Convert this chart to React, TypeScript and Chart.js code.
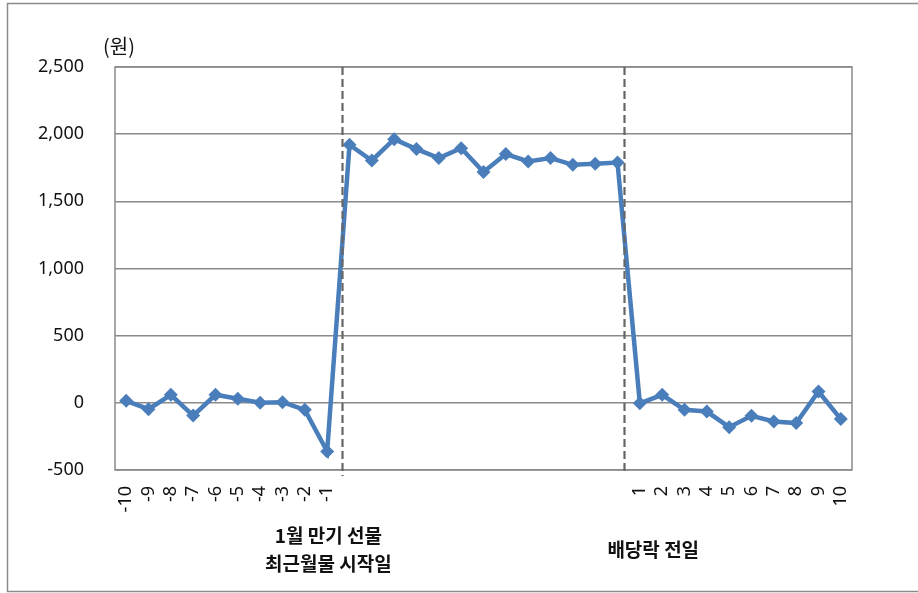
import React, { useEffect, useRef } from "react";
import { Chart, registerables } from "chart.js";

Chart.register(...registerables);

// Days before the front-month start (-10..-1), the holding window, then days after (1..10)
const beforeLabels = ["-10", "-9", "-8", "-7", "-6", "-5", "-4", "-3", "-2", "-1"];
const windowLabels = ["", "", "", "", "", "", "", "", "", "", "", "", ""];
const afterLabels = ["1", "2", "3", "4", "5", "6", "7", "8", "9", "10"];

const beforeValues = [15, -47, 60, -95, 60, 30, 0, 5, -52, -362];
const windowValues = [1921, 1804, 1963, 1889, 1822, 1896, 1718, 1852, 1797, 1822, 1772, 1780, 1789];
const afterValues = [-3, 60, -52, -65, -181, -97, -139, -151, 84, -121];

const yTicks = [-500, 0, 500, 1000, 1500, 2000, 2500];
const unitLabel = "(원)";
const startLabel = ["1월 만기 선물", "최근월물 시작일"];
const exDivLabel = ["배당락 전일"];

const categories = [...beforeLabels, ...windowLabels, ...afterLabels];
const values = [...beforeValues, ...windowValues, ...afterValues];

const FONT = "'Noto Sans', 'Noto Sans CJK KR', sans-serif";
const KFONT = "'Noto Sans CJK KR', 'Noto Sans', sans-serif";
const LINE_BLUE = "#4a7ebb";
const GRID = "#8a8a8a";
const TEXT = "#111111";

const decorations = {
  id: "decorations",
  beforeDraw(chart: any) {
    const { ctx } = chart;
    ctx.save();
    ctx.fillStyle = "#ffffff";
    ctx.fillRect(0, 0, chart.width, chart.height);
    // outer frame
    ctx.strokeStyle = "#8c8c8c";
    ctx.lineWidth = 1.5;
    ctx.beginPath();
    ctx.moveTo(chart.width, 3.5);
    ctx.lineTo(7.5, 3.5);
    ctx.lineTo(7.5, 591.5);
    ctx.lineTo(chart.width, 591.5);
    ctx.stroke();
    ctx.restore();
  },
  afterDatasetsDraw(chart: any) {
    const { ctx, chartArea, scales } = chart;
    const x = scales.x;
    const step = x.getPixelForValue(1) - x.getPixelForValue(0);
    const at = (v: number) => x.getPixelForValue(0) + v * step;
    ctx.save();
    // plot frame
    ctx.strokeStyle = GRID;
    ctx.lineWidth = 1.5;
    ctx.strokeRect(chartArea.left, chartArea.top, chartArea.right - chartArea.left, chartArea.bottom - chartArea.top);
    // event markers
    ctx.strokeStyle = "#666666";
    ctx.lineWidth = 2.2;
    ctx.setLineDash([8, 4]);
    const marks = [
      { pos: beforeLabels.length - 0.33, end: chartArea.bottom + 6 },
      { pos: beforeLabels.length + windowLabels.length - 0.69, end: chartArea.bottom + 4 },
    ];
    marks.forEach((m) => {
      const px = Math.round(at(m.pos)) + 0.5;
      ctx.beginPath();
      ctx.moveTo(px, chartArea.top);
      ctx.lineTo(px, m.end);
      ctx.stroke();
    });
    ctx.setLineDash([]);
    // unit caption
    ctx.fillStyle = TEXT;
    ctx.font = `20px ${KFONT}`;
    ctx.textAlign = "center";
    ctx.textBaseline = "middle";
    ctx.fillText(unitLabel, chartArea.left + 4, 46);
    // event captions
    ctx.font = `bold 19px ${KFONT}`;
    const c1 = at(beforeLabels.length - 0.95);
    startLabel.forEach((t, i) => ctx.fillText(t, c1, 536 + i * 28));
    const c2 = at(beforeLabels.length + windowLabels.length + 0.6);
    exDivLabel.forEach((t) => ctx.fillText(t, c2, 550));
    ctx.restore();
  },
};

export default function App() {
  const ref = useRef<HTMLCanvasElement | null>(null);

  useEffect(() => {
    if (!ref.current) return;
    const chart = new Chart(ref.current, {
      type: "line",
      data: {
        labels: categories,
        datasets: [
          {
            data: values,
            borderColor: LINE_BLUE,
            backgroundColor: LINE_BLUE,
            borderWidth: 4.5,
            pointStyle: "rectRot",
            pointRadius: 7,
            pointBorderWidth: 0,
            pointBackgroundColor: LINE_BLUE,
            tension: 0,
          },
        ],
      },
      options: {
        responsive: false,
        animation: false,
        layout: { padding: { top: 67, left: 0, right: 66, bottom: 0 } },
        plugins: {
          legend: { display: false },
          tooltip: { enabled: false },
        },
        scales: {
          x: {
            type: "category",
            offset: true,
            grid: { display: false, drawTicks: false },
            border: { display: false },
            ticks: {
              autoSkip: false,
              minRotation: 90,
              maxRotation: 90,
              padding: 16,
              color: TEXT,
              font: { family: FONT, size: 18 },
            },
            afterFit: (s: any) => {
              s.height = 123;
            },
          },
          y: {
            min: -500,
            max: 2500,
            afterBuildTicks: (s: any) => {
              s.ticks = yTicks.map((v) => ({ value: v }));
            },
            grid: { color: GRID, lineWidth: 1.5, drawTicks: false },
            border: { display: false },
            ticks: {
              padding: 31,
              color: TEXT,
              font: { family: FONT, size: 18 },
              callback: (v: any) => Number(v).toLocaleString("en-US"),
            },
            afterFit: (s: any) => {
              s.width = 115;
            },
          },
        },
      },
      plugins: [decorations],
    });
    return () => chart.destroy();
  }, []);

  return (
    <div style={{ position: "fixed", left: 0, top: 0, width: 918, height: 593, background: "#fff" }}>
      <canvas ref={ref} width={918} height={593} />
    </div>
  );
}
